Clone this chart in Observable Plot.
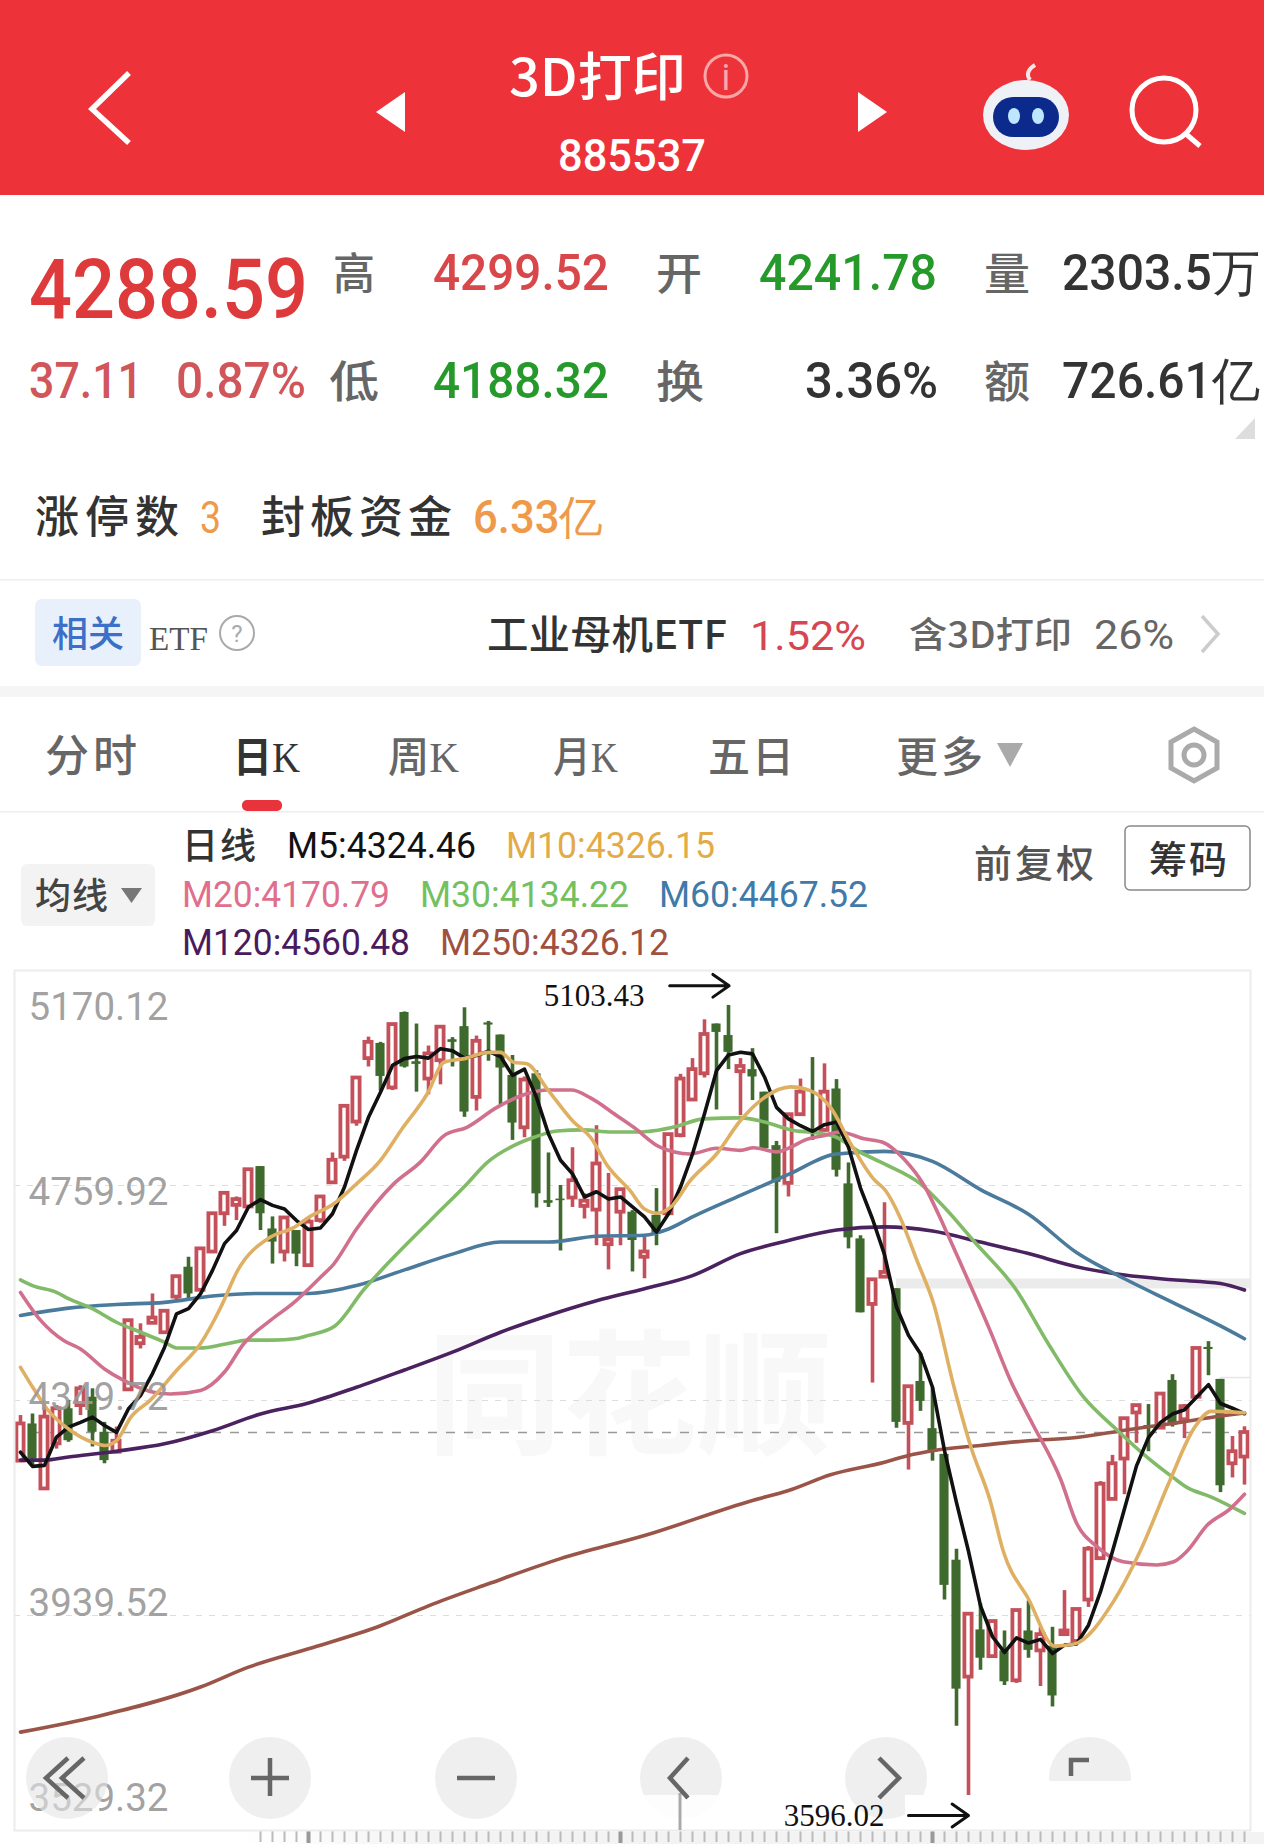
<!DOCTYPE html>
<html lang="zh"><head><meta charset="utf-8">
<script src="https://cdn.jsdelivr.net/npm/d3@7"></script>
<script src="https://cdn.jsdelivr.net/npm/@observablehq/plot@0.6"></script>
<style>
html,body{margin:0;padding:0;background:#fff}
#page{position:relative;width:1264px;height:1844px;overflow:hidden;background:#fff}
#strip{position:absolute;left:240px;top:1832px;width:1024px;height:12px;background:linear-gradient(90deg,#fff,#f3f3f3 20%)}
#chart,#notes{position:absolute;left:0;top:960px}
#ui{position:absolute;left:0;top:0;pointer-events:none}
#ui text{font-family:"Noto Sans CJK SC","Noto Sans",sans-serif;font-weight:500}
#ui text.n{font-family:Roboto,sans-serif;font-weight:400}
#ui text.b{font-family:Roboto,sans-serif;font-weight:500}
#ui .s{font-family:"Liberation Serif",serif;font-weight:400}
</style></head><body>
<div id="page"><div id="strip"></div><div id="chart"></div>
<svg id="ui" width="1264" height="1844" viewBox="0 0 1264 1844" xmlns="http://www.w3.org/2000/svg">
<rect width="1264" height="195" fill="#ee3239"/>
<polyline points="129,73 92,109 129,143" fill="none" stroke="#fff" stroke-width="5.5"/>
<polygon points="405,92 376,112 405,132" fill="#fff"/>
<polygon points="858,92 887,112 858,132" fill="#fff"/>
<text x="509" y="96" font-size="52" fill="#fff" textLength="177" lengthAdjust="spacingAndGlyphs">3D打印</text>
<circle cx="726" cy="76" r="21" fill="none" stroke="#f9a7a7" stroke-width="3"/>
<text x="726" y="90" font-size="36" fill="#f9a7a7" text-anchor="middle" class="n">i</text>
<text x="558" y="171" font-size="44" fill="#fff" class="b" textLength="148" lengthAdjust="spacingAndGlyphs">885537</text>
<path d="M1030 80 q-6 -8 5 -15" fill="none" stroke="#f5e6e6" stroke-width="4"/>
<ellipse cx="1026" cy="115" rx="43" ry="35" fill="#eef1f6"/>
<rect x="993" y="97" width="66" height="40" rx="20" fill="#0b2a8c"/>
<ellipse cx="1014" cy="116" rx="6" ry="8" fill="#bfe6ff"/><ellipse cx="1038" cy="116" rx="6" ry="8" fill="#bfe6ff"/>
<circle cx="1164" cy="110" r="32" fill="none" stroke="#fff" stroke-width="5"/>
<line x1="1186" y1="134" x2="1200" y2="146" stroke="#fff" stroke-width="5"/>

<text x="29" y="318" font-size="84" fill="#de3a3c" class="b" textLength="279" lengthAdjust="spacingAndGlyphs">4288.59</text>
<text x="333" y="290" font-size="44" fill="#666" textLength="42" lengthAdjust="spacingAndGlyphs">高</text>
<text x="433" y="290" font-size="50" fill="#d8474a" class="b" textLength="176" lengthAdjust="spacingAndGlyphs">4299.52</text>
<text x="656" y="290" font-size="44" fill="#666" textLength="46" lengthAdjust="spacingAndGlyphs">开</text>
<text x="759" y="290" font-size="50" fill="#25992a" class="b" textLength="178" lengthAdjust="spacingAndGlyphs">4241.78</text>
<text x="984" y="290" font-size="44" fill="#666" textLength="46" lengthAdjust="spacingAndGlyphs">量</text>
<text x="1062" y="290" font-size="50" fill="#333" class="b" textLength="198" lengthAdjust="spacingAndGlyphs">2303.5万</text>
<text x="29" y="398" font-size="50" fill="#d0565a" class="b" textLength="114" lengthAdjust="spacingAndGlyphs">37.11</text>
<text x="176" y="398" font-size="50" fill="#d0565a" class="b" textLength="130" lengthAdjust="spacingAndGlyphs">0.87%</text>
<text x="329" y="398" font-size="44" fill="#666" textLength="50" lengthAdjust="spacingAndGlyphs">低</text>
<text x="433" y="398" font-size="50" fill="#25992a" class="b" textLength="176" lengthAdjust="spacingAndGlyphs">4188.32</text>
<text x="656" y="398" font-size="44" fill="#666" textLength="48" lengthAdjust="spacingAndGlyphs">换</text>
<text x="805" y="398" font-size="50" fill="#333" class="b" textLength="133" lengthAdjust="spacingAndGlyphs">3.36%</text>
<text x="984" y="398" font-size="44" fill="#666" textLength="46" lengthAdjust="spacingAndGlyphs">额</text>
<text x="1062" y="398" font-size="50" fill="#333" class="b" textLength="198" lengthAdjust="spacingAndGlyphs">726.61亿</text>
<polygon points="1255,418 1255,439 1235,439" fill="#ddd"/>

<text x="35" y="533" font-size="44" fill="#333" textLength="144" lengthAdjust="spacing">涨停数</text>
<text x="200" y="533" font-size="44" fill="#ee9a4a" class="n" textLength="21" lengthAdjust="spacingAndGlyphs">3</text>
<text x="261" y="533" font-size="44" fill="#333" textLength="191" lengthAdjust="spacing">封板资金</text>
<text x="473" y="533" font-size="46" fill="#ee9a4a" class="b" textLength="130" lengthAdjust="spacingAndGlyphs">6.33亿</text>
<rect y="579" width="1264" height="1.5" fill="#eee"/>

<rect x="35" y="599" width="106" height="67" rx="7" fill="#e8f0fc"/>
<text x="52" y="647" font-size="36" fill="#3c6fc8" textLength="72" lengthAdjust="spacing">相关</text>
<text x="149" y="650" font-size="34" fill="#555" class="s" textLength="59" lengthAdjust="spacingAndGlyphs">ETF</text>
<circle cx="237" cy="633" r="17" fill="none" stroke="#aaa" stroke-width="2"/>
<text x="237" y="642" font-size="24" fill="#aaa" text-anchor="middle" class="n">?</text>
<text x="487" y="649" font-size="40" fill="#333" textLength="240" lengthAdjust="spacingAndGlyphs">工业母机ETF</text>
<text x="750" y="650" font-size="40" fill="#d64550" class="n" textLength="116" lengthAdjust="spacingAndGlyphs">1.52%</text>
<text x="909" y="648" font-size="36" fill="#666" textLength="163" lengthAdjust="spacingAndGlyphs">含3D打印</text>
<text x="1094" y="649" font-size="40" fill="#666" class="n" textLength="80" lengthAdjust="spacingAndGlyphs">26%</text>
<polyline points="1202,616 1218,634 1202,652" fill="none" stroke="#ccc" stroke-width="3.5"/>
<rect y="686" width="1264" height="11" fill="#f5f5f5"/>

<text x="45" y="772" font-size="44" fill="#666" textLength="92" lengthAdjust="spacing">分时</text>
<text x="233" y="772" font-size="42" fill="#333" style="font-weight:700" textLength="67" lengthAdjust="spacingAndGlyphs">日<tspan class="s">K</tspan></text>
<text x="388" y="772" font-size="42" fill="#666" textLength="71" lengthAdjust="spacingAndGlyphs">周<tspan class="s">K</tspan></text>
<text x="553" y="772" font-size="42" fill="#666" textLength="65" lengthAdjust="spacingAndGlyphs">月<tspan class="s">K</tspan></text>
<text x="708" y="772" font-size="42" fill="#666" textLength="86" lengthAdjust="spacing">五日</text>
<text x="896" y="772" font-size="42" fill="#666" textLength="87" lengthAdjust="spacing">更多</text>
<polygon points="997,743 1023,743 1010,767" fill="#aaa"/>
<polygon points="1194,729 1217,742 1217,768 1194,781 1171,768 1171,742" fill="none" stroke="#aaa" stroke-width="5"/>
<circle cx="1194" cy="755" r="10" fill="none" stroke="#aaa" stroke-width="5"/>
<rect x="242" y="800" width="40" height="11" rx="5" fill="#e8323c"/>
<rect y="811" width="1264" height="1.5" fill="#eee"/>

<text x="182" y="859" font-size="36" fill="#333" textLength="74" lengthAdjust="spacing">日线</text>
<text x="287" y="858" font-size="36" fill="#111" class="n" textLength="189" lengthAdjust="spacingAndGlyphs">M5:4324.46</text>
<text x="506" y="858" font-size="36" fill="#e2ab47" class="n" textLength="209" lengthAdjust="spacingAndGlyphs">M10:4326.15</text>
<text x="182" y="907" font-size="36" fill="#df6f8c" class="n" textLength="208" lengthAdjust="spacingAndGlyphs">M20:4170.79</text>
<text x="420" y="907" font-size="36" fill="#73c060" class="n" textLength="209" lengthAdjust="spacingAndGlyphs">M30:4134.22</text>
<text x="659" y="907" font-size="36" fill="#3f7aa8" class="n" textLength="209" lengthAdjust="spacingAndGlyphs">M60:4467.52</text>
<text x="182" y="955" font-size="36" fill="#4a1a5e" class="n" textLength="228" lengthAdjust="spacingAndGlyphs">M120:4560.48</text>
<text x="440" y="955" font-size="36" fill="#a0503f" class="n" textLength="229" lengthAdjust="spacingAndGlyphs">M250:4326.12</text>
<rect x="21" y="864" width="134" height="62" rx="6" fill="#f3f3f3"/>
<text x="35" y="909" font-size="36" fill="#444" textLength="73" lengthAdjust="spacing">均线</text>
<polygon points="121,888 142,888 131.5,903" fill="#777"/>
<text x="974" y="877" font-size="38" fill="#555" textLength="120" lengthAdjust="spacing">前复权</text>
<rect x="1125" y="826" width="125" height="64" rx="5" fill="#fff" stroke="#888" stroke-width="1.5"/>
<text x="1149" y="873" font-size="38" fill="#333" textLength="78" lengthAdjust="spacing">筹码</text>

<g fill="#e4e4e4" fill-opacity=".6">
<circle cx="67" cy="1778" r="41"/><circle cx="270" cy="1778" r="41"/><circle cx="476" cy="1778" r="41"/>
<circle cx="681" cy="1778" r="41"/><circle cx="886" cy="1778" r="41"/><circle cx="1090" cy="1778" r="41"/>
</g>
<rect x="1040" y="1781" width="208" height="48" fill="#fff"/>
<rect x="905" y="1795" width="343" height="34" fill="#fff"/>
<rect x="530" y="1795" width="205" height="34" fill="#fff" fill-opacity=".85"/>
<line x1="680" y1="1793" x2="680" y2="1830" stroke="#aaa" stroke-width="3"/>
<g fill="none" stroke="#666" stroke-width="4.5">
<polyline points="68,1758 46,1778 68,1798"/><polyline points="84,1758 62,1778 84,1798"/>
<path d="M270 1758 V1796 M251 1778 H289"/><path d="M457 1778 H495"/>
<polyline points="688,1758 670,1778 688,1798"/><polyline points="879,1758 899,1778 879,1798"/>
<polyline points="1071,1776 1071,1760 1089,1760"/>
</g>
</svg><div id="notes"></div></div>
<script>
// Daily candles, oldest first
const opens = [4234,4305,4181,4267,4334,4340,4356,4289,4251,4370,4458,4497,4479,4547,4604,4560,4633,4706,4722,4719,4796,4677,4633,4674,4607,4693,4765,4814,4881,5002,5031,4946,5090,4996,4963,4998,5038,5063,4928,5070,5047,4970,4870,4973,4731,4734,4736,4720,4713,4647,4709,4709,4623,4703,4706,4855,4923,4973,5068,5046,4977,4981,4938,4836,4764,4895,4866,4865,4944,4763,4658,4533,4585,4563,4306,4386,4296,4247,4045,3822,3912,3861,3872,3815,3910,3872,3881,3903,3890,3969,4048,4161,4238,4326,4302,4297,4388,4313,4356,4451,4390,4229,4241.78];
const highs = [4321,4324,4337,4340,4350,4378,4372,4308,4299,4504,4496,4553,4521,4588,4623,4640,4708,4747,4738,4792,4796,4700,4700,4674,4699,4741,4822,4912,4967,5043,5033,5068,5091,5068,5026,5064,5042,5099,5045,5073,5047,5008,4967,4979,4822,4760,4832,4744,4874,4783,4752,4712,4661,4754,4858,4972,5002,5076,5068,5103.43,5002,5021,4938,4844,4897,4963,5004,4992,4962,4803,4664,4582,4727,4563,4378,4439,4374,4247,4066,3944,3962,3930,3910,3950,3967,3917,3917,3987,3953,4071,4195,4245,4317,4342,4342,4364,4399,4342,4451,4462,4390,4281,4299.52];
const lows = [4232,4226,4181,4257,4270,4321,4261,4229,4248,4369,4448,4497,4479,4537,4541,4558,4631,4682,4693,4715,4674,4610,4614,4605,4606,4688,4764,4806,4873,4986,4940,4941,4984,4938,4933,4952,4986,4890,4902,4997,4911,4846,4851,4717,4718,4635,4718,4696,4645,4599,4645,4595,4582,4645,4703,4851,4922,4965,4904,4981,4893,4922,4828,4668,4738,4893,4846,4862,4776,4639,4517,4383,4584,4297,4217,4329,4234,3969,3728,3596.02,3835,3858,3806,3810,3858,3804,3765,3903,3888,3955,4045,4159,4170,4268,4252,4295,4299,4277,4353,4397,4174,4202,4188.32];
const closes = [4305,4238,4318,4334,4273,4372,4289,4235,4272,4502,4470,4507,4520,4586,4553,4639,4706,4745,4733,4790,4706,4652,4698,4629,4690,4738,4808,4911,4965,5033,4968,5067,4986,4991,5011,5062,5033,4900,5035,5066,4984,4879,4961,4744,4726,4731,4769,4730,4801,4656,4752,4655,4633,4668,4857,4963,4981,5048,5052,5014,4987,4967,4830,4766,4895,4938,4859,4938,4789,4660,4517,4580,4594,4308,4376,4348,4252,3997,3799,3942,3858,3928,3813,3949,3873,3903,3786,3910,3951,4066,4190,4229,4315,4340,4297,4362,4302,4338,4449,4447,4187,4252,4288.59];

// Moving averages: one value per candle for M5, [candle, value] knots for the others
const m5 = [4251,4224,4226,4280,4299,4308,4318,4302,4289,4334,4359,4401,4451,4515,4525,4553,4598,4649,4674,4719,4733,4722,4715,4693,4676,4679,4706,4757,4827,4890,4938,4989,5002,5006,5003,5021,5017,5003,5008,5016,5006,4970,4982,4928,4858,4808,4782,4738,4748,4734,4738,4719,4700,4671,4706,4757,4820,4897,4979,5009,5014,5011,4967,4909,4887,4874,4863,4876,4881,4833,4755,4696,4628,4528,4474,4439,4375,4254,4155,4062,3958,3899,3869,3897,3887,3894,3867,3883,3885,3921,3985,4062,4143,4225,4279,4308,4324,4332,4356,4380,4344,4335,4324.46];
const m10 = [[0,4413],[1.1,4372],[2.2,4334],[4.2,4292],[6,4270],[7.1,4264],[8,4273],[9.2,4318],[10.8,4350],[13,4407],[15,4458],[16.7,4528],[18.1,4598],[20.8,4661],[22.8,4680],[24,4699],[26.1,4725],[28,4763],[30,4808],[31.7,4865],[33.9,4935],[35.3,4995],[37,5002],[39,5014],[40,5014],[41.1,4995],[42.2,4992],[43.9,4944],[46.1,4881],[47.5,4852],[48.9,4798],[50.8,4750],[52,4715],[53.1,4707],[54.2,4719],[55.8,4769],[58,4820],[60,4884],[62,4928],[64.2,4948],[65.8,4941],[67.5,4909],[69.2,4839],[71.1,4772],[72.1,4750],[73.3,4699],[74.7,4617],[76.1,4534],[77.8,4375],[79.2,4261],[80.8,4159],[81.9,4062],[84,3971],[86.2,3881],[87.8,3885],[91.1,3967],[93.3,4062],[95.8,4198],[97.8,4297],[99.2,4329],[102,4326.15]];
const m20 = [[0,4556],[1.7,4502],[3.6,4464],[5,4448],[7,4410],[8.6,4388],[10.8,4367],[12.5,4362],[15,4369],[17,4404],[18.6,4458],[20.8,4502],[22.8,4537],[25,4585],[26.1,4610],[28,4677],[31.1,4763],[33.3,4804],[35.3,4855],[37.2,4871],[39.7,4909],[42.2,4935],[43.9,4942],[45.9,4942],[47.5,4927],[49.7,4893],[51.1,4871],[53.3,4833],[55.8,4820],[58,4831],[60,4827],[61.1,4832],[63,4824],[64.2,4833],[65.3,4846],[66.9,4855],[68.3,4862],[70.3,4849],[71.9,4842],[73.6,4811],[75.3,4760],[77,4680],[78.6,4598],[80.8,4483],[82.5,4388],[84.2,4311],[86.7,4198],[88,4116],[89.7,4071],[91.9,4042],[94.7,4036],[96.1,4042],[97.2,4062],[98.9,4112],[100.8,4143],[102,4170.79]];
const m30 = [[0,4580],[1,4569],[3,4556],[4,4544],[6,4525],[8,4499],[10,4480],[12,4461],[13,4450],[15,4450],[17,4457],[19,4465],[21,4465],[23,4468],[24,4474],[26.2,4492],[28.6,4561],[31.1,4623],[34.4,4699],[37.2,4763],[38.9,4804],[41.1,4836],[42.8,4852],[44.7,4864],[46.9,4866],[49.2,4862],[51.7,4862],[53,4865],[54.7,4873],[56.9,4887],[60,4889],[62,4881],[64.2,4866],[66.4,4860],[68,4852],[69.7,4827],[72,4801],[75,4763],[77,4718],[79.4,4655],[83,4560],[85.6,4460],[88.6,4356],[91.4,4293],[93.6,4247],[96.1,4202],[97.2,4184],[99.2,4166],[102,4134.22]];
const m60 = [[0,4512],[4,4526],[8,4533],[12,4537],[16,4549],[20,4554],[24,4554],[28,4569],[32,4599],[36,4629],[40,4652],[44,4652],[48,4663],[52,4665],[54,4677],[56,4700],[60,4741],[64,4781],[68,4820],[72,4825],[76,4806],[80,4752],[84,4705],[88,4632],[92,4582],[96,4537],[100,4492],[102,4467.52]];
const m120 = [[0,4236],[2,4236],[4,4242],[8,4253],[12,4267],[16,4292],[20,4324],[24,4345],[28,4375],[32,4408],[36,4442],[40,4480],[44,4512],[48,4540],[52,4563],[56,4588],[60,4630],[64,4655],[68,4675],[72,4681],[76,4673],[80,4652],[84,4630],[88,4605],[92,4589],[96,4580],[100,4573],[102,4560.48]];
const m250 = [[0,3717],[6.4,3747],[15,3803],[19,3841],[24,3876],[30,3920],[34,3958],[39,4000],[45,4048],[52,4092],[61,4159],[64,4178],[67.5,4208],[72,4232],[74,4245],[76,4254],[80,4264],[84,4273],[88,4279],[92,4293],[96,4306],[100,4320],[102,4326.12]];

// Axis, reference levels
const axisLabels = ["5170.12","4759.92","4349.72","3939.52","3529.32"];
const axisLabelAt = [5075,4722,4331,3939.5,3567];
const gridLevels = [4759.92,4349.72,3939.52];
const lastClose = 4288.59;
const minorCandles = d3.range(20,103);
const majorCandles = [24,50,76];

const candles = opens.map((o,i)=>({i,o,h:highs[i],l:lows[i],c:closes[i],up:closes[i]>=o}));
const ups = candles.filter(d=>d.up), downs = candles.filter(d=>!d.up);
const RED="#c4505a", GREEN="#3f6a2e";
const avg = (a,stroke,w=3.6)=>Plot.line(a,{x:d=>d[0],y:d=>d[1],stroke,strokeWidth:w,curve:"monotone-x"});
const frameOptions = {
  width:1264,height:884,marginLeft:14,marginRight:14,marginTop:10,marginBottom:14,
  style:{background:"transparent"},
  x:{type:"linear",domain:[-0.5,102.5],axis:null},
  y:{type:"linear",domain:[3529.32,5170.12],axis:null}
};

const chart = Plot.plot({...frameOptions,
  marks:[
    Plot.text(["同花顺"],{x:()=>50.75,y:()=>4349,fontSize:135,fontWeight:700,fill:"#f8f8f8",fontFamily:"Noto Sans CJK SC",lineAnchor:"middle"}),
    Plot.ruleY(gridLevels,{stroke:"#ddd",strokeDasharray:"6 7",strokeWidth:1.2}),
    Plot.ruleY([4573],{x1:()=>73,x2:()=>102.5,stroke:"#ebebeb",strokeWidth:10}),
    Plot.ruleY([4393.5],{x1:()=>100,x2:()=>102.5,stroke:"#e6e6e6",strokeWidth:1.5}),
    Plot.ruleY([lastClose],{stroke:"#999",strokeDasharray:"9 9",strokeWidth:1.6}),
    Plot.axisX(minorCandles,{anchor:"bottom",tickSize:12,tickPadding:0,tickFormat:()=>"",stroke:"#bbb",strokeWidth:2,label:null}),
    Plot.axisX(majorCandles,{anchor:"bottom",tickSize:13,tickPadding:0,tickFormat:()=>"",stroke:"#999",strokeWidth:4,label:null}),
    Plot.ruleX(downs,{x:"i",y1:"l",y2:"h",stroke:GREEN,strokeWidth:3.6}),
    Plot.rect(downs,{x1:d=>d.i-0.38,x2:d=>d.i+0.38,y1:"o",y2:"c",fill:GREEN}),
    Plot.ruleX(ups,{x:"i",y1:"l",y2:"h",stroke:RED,strokeWidth:3.6}),
    Plot.rect(ups,{x1:d=>d.i-0.3,x2:d=>d.i+0.3,y1:"o",y2:"c",fill:"#fff",stroke:RED,strokeWidth:3.8}),
    avg(m250,"#9a5548"),
    avg(m120,"#4a2260"),
    avg(m60,"#4a7a9c"),
    avg(m30,"#82bb68"),
    avg(m20,"#d0708c"),
    Plot.line(m5,{x:(d,i)=>i,y:d=>d,stroke:"#111",strokeWidth:3.6}),
    avg(m10,"#dfb064"),
    Plot.text(axisLabels,{x:()=>-0.5,y:(d,i)=>axisLabelAt[i],text:d=>d,textAnchor:"start",lineAnchor:"bottom",dx:14,fontFamily:"Roboto",fontSize:38.5,fill:"#999",fillOpacity:.92}),
    Plot.frame({stroke:"#ececec",strokeWidth:2})
  ]
});
document.getElementById("chart").appendChild(chart);

// High and low annotations, above the translucent buttons
const notes = Plot.plot({...frameOptions,
  marks:[
    Plot.text(["5103.43"],{x:()=>47.8,y:()=>5103,textAnchor:"middle",lineAnchor:"bottom",fontFamily:"Liberation Serif",fontSize:31,fill:"#111"}),
    Plot.arrow([0],{x1:()=>54.1,x2:()=>59.05,y1:()=>5141,y2:()=>5141,bend:0,headLength:18,headAngle:70,strokeWidth:3,stroke:"#111"}),
    Plot.text(["3596.02"],{x:()=>67.8,y:()=>3537,textAnchor:"middle",lineAnchor:"bottom",fontFamily:"Liberation Serif",fontSize:31,fill:"#111"}),
    Plot.arrow([0],{x1:()=>74,x2:()=>79,y1:()=>3558,y2:()=>3558,bend:0,headLength:18,headAngle:70,strokeWidth:3,stroke:"#111"})
  ]
});
document.getElementById("notes").appendChild(notes);
</script>
</body></html>
